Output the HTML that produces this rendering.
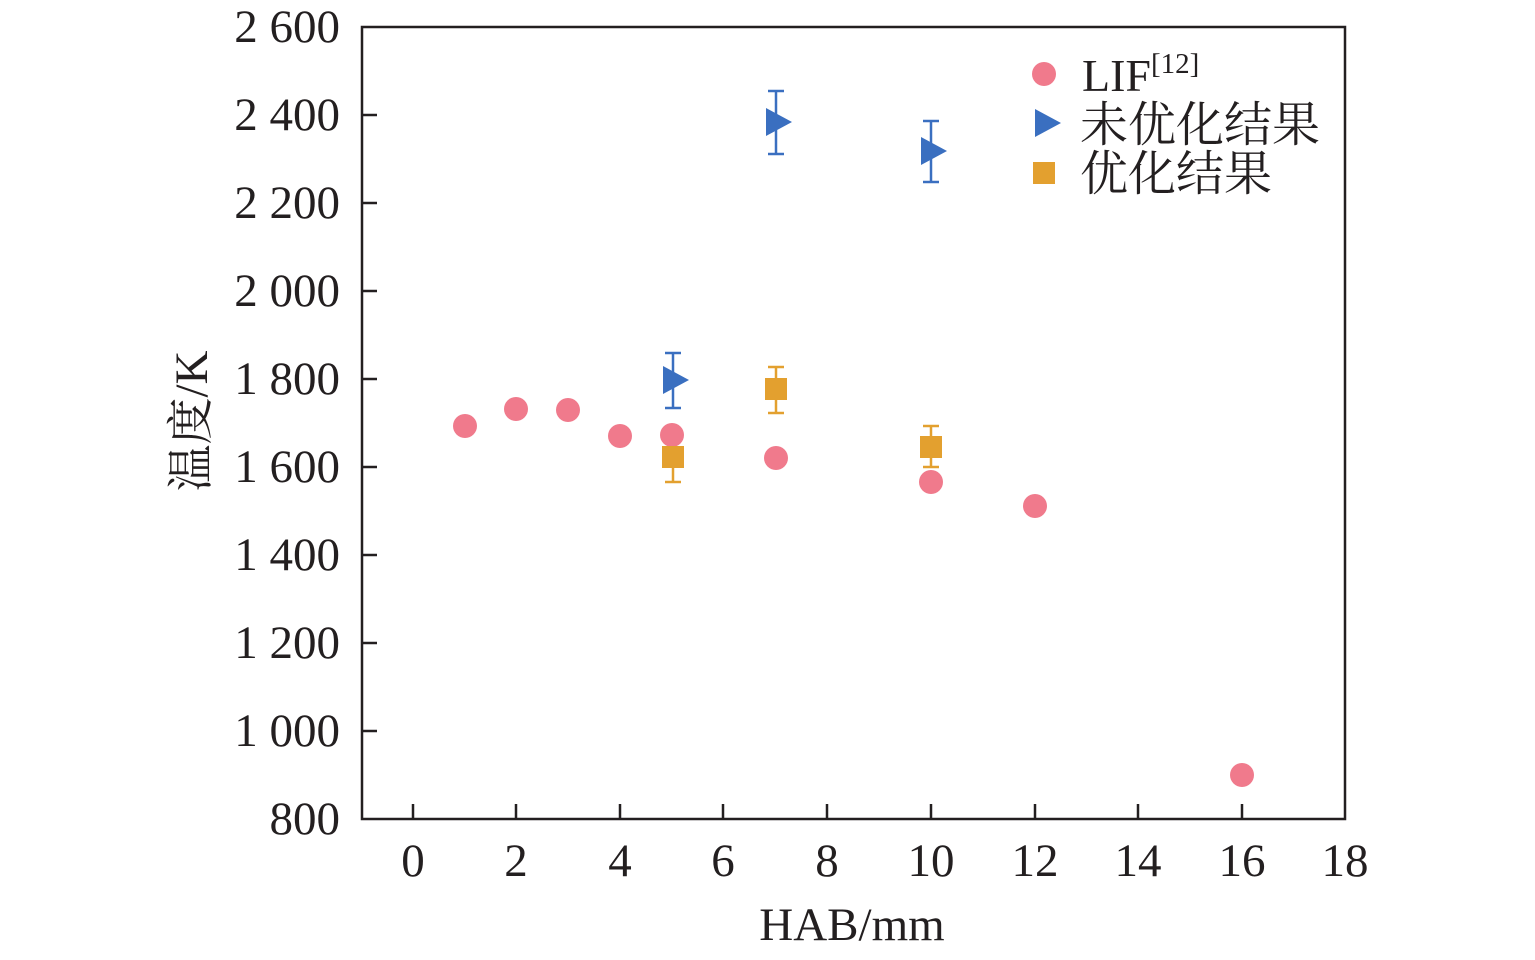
<!DOCTYPE html>
<html><head><meta charset="utf-8"><style>
html,body{margin:0;padding:0;background:#fff}
svg text{font-family:"Liberation Serif","Noto Serif CJK SC",serif;fill:#231f20}
</style></head><body>
<svg width="1535" height="955" viewBox="0 0 1535 955" xmlns="http://www.w3.org/2000/svg">
<rect x="362" y="27" width="983" height="792" fill="none" stroke="#231f20" stroke-width="2.5"/>
<g stroke="#231f20" stroke-width="2.5">
<line x1="362" y1="115" x2="377" y2="115"/><line x1="362" y1="203" x2="377" y2="203"/>
<line x1="362" y1="291" x2="377" y2="291"/><line x1="362" y1="379" x2="377" y2="379"/>
<line x1="362" y1="467" x2="377" y2="467"/><line x1="362" y1="555" x2="377" y2="555"/>
<line x1="362" y1="643" x2="377" y2="643"/><line x1="362" y1="731" x2="377" y2="731"/>
<line x1="413" y1="819" x2="413" y2="804"/><line x1="516" y1="819" x2="516" y2="804"/>
<line x1="620" y1="819" x2="620" y2="804"/><line x1="723" y1="819" x2="723" y2="804"/>
<line x1="827" y1="819" x2="827" y2="804"/><line x1="931" y1="819" x2="931" y2="804"/>
<line x1="1035" y1="819" x2="1035" y2="804"/><line x1="1138" y1="819" x2="1138" y2="804"/>
<line x1="1242" y1="819" x2="1242" y2="804"/>
</g>
<g font-size="47" text-anchor="end">
<text x="340" y="42">2 600</text><text x="340" y="130">2 400</text><text x="340" y="218">2 200</text>
<text x="340" y="306">2 000</text><text x="340" y="394">1 800</text><text x="340" y="482">1 600</text>
<text x="340" y="570">1 400</text><text x="340" y="658">1 200</text><text x="340" y="746">1 000</text>
<text x="340" y="834">800</text>
</g>
<g font-size="47" text-anchor="middle">
<text x="413" y="876">0</text><text x="516" y="876">2</text><text x="620" y="876">4</text>
<text x="723" y="876">6</text><text x="827" y="876">8</text><text x="931" y="876">10</text>
<text x="1035" y="876">12</text><text x="1138" y="876">14</text><text x="1242" y="876">16</text>
<text x="1345" y="876">18</text>
<text x="852" y="940">HAB/mm</text>
</g>
<text font-size="47" text-anchor="middle" transform="translate(207,421) rotate(-90)">温度/K</text>
<g stroke="#3a6fc0" stroke-width="2.5">
<line x1="673" y1="353" x2="673" y2="408"/><line x1="665" y1="353" x2="681" y2="353"/><line x1="665" y1="408" x2="681" y2="408"/>
<line x1="776" y1="91" x2="776" y2="154"/><line x1="768" y1="91" x2="784" y2="91"/><line x1="768" y1="154" x2="784" y2="154"/>
<line x1="931" y1="121" x2="931" y2="182"/><line x1="923" y1="121" x2="939" y2="121"/><line x1="923" y1="182" x2="939" y2="182"/>
</g>
<g stroke="#e3a02f" stroke-width="2.5">
<line x1="673" y1="430" x2="673" y2="482"/><line x1="665" y1="482" x2="681" y2="482"/>
<line x1="776" y1="367" x2="776" y2="413"/><line x1="768" y1="367" x2="784" y2="367"/><line x1="768" y1="413" x2="784" y2="413"/>
<line x1="931" y1="426" x2="931" y2="467"/><line x1="923" y1="426" x2="939" y2="426"/><line x1="923" y1="467" x2="939" y2="467"/>
</g>
<g fill="#f07a8c">
<circle cx="465" cy="426" r="12"/><circle cx="516" cy="409" r="12"/><circle cx="568" cy="410" r="12"/>
<circle cx="620" cy="436" r="12"/><circle cx="672" cy="435" r="12"/><circle cx="776" cy="458" r="12"/>
<circle cx="931" cy="482" r="12"/><circle cx="1035" cy="506" r="12"/><circle cx="1242" cy="775" r="12"/>
<circle cx="1044" cy="74" r="12"/>
</g>
<g fill="#3a6fc0">
<polygon points="663,366 663,394 689,380"/><polygon points="766,108 766,136 792,122"/>
<polygon points="921,137 921,165 947,151"/><polygon points="1035,109 1035,137 1061,123"/>
</g>
<g fill="#e3a02f">
<rect x="662" y="446" width="22" height="22"/><rect x="765" y="378" width="22" height="22"/>
<rect x="920" y="436" width="22" height="22"/><rect x="1033" y="162" width="22" height="22"/>
</g>
<text x="1082" y="91" font-size="46">LIF<tspan font-size="29" dy="-18">[12]</tspan></text>
<text x="1080" y="141" font-size="48">未优化结果</text>
<text x="1080" y="190" font-size="48">优化结果</text>
</svg>
</body></html>
